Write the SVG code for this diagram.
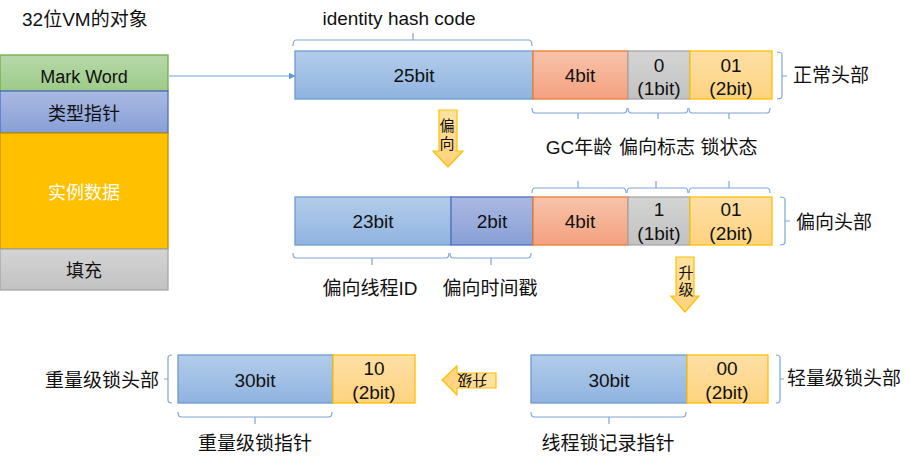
<svg xmlns="http://www.w3.org/2000/svg" width="914" height="466" viewBox="0 0 914 466">
<style>
text{font-family:"Liberation Sans","Noto Sans CJK SC",sans-serif;font-size:19px;fill:#111;}
.c{text-anchor:middle;}
.s18{font-size:18px;}
.s15{font-size:15px;}
.br{fill:none;stroke:#7ea6d8;stroke-width:1.2;}
.blue{fill:url(#gBlue);stroke:#6d9ad2;stroke-width:1.3;}
.purp{fill:url(#gPurp);stroke:#4a72c0;stroke-width:1.3;}
.salm{fill:url(#gSalm);stroke:#ed7d31;stroke-width:1.3;}
.gray{fill:url(#gGray);stroke:#a6a6a6;stroke-width:1.3;}
.yel{fill:url(#gYel);stroke:#ffc000;stroke-width:1.3;}
.green{fill:url(#gGreen);stroke:#70ad47;stroke-width:1.3;}
.gold{fill:#ffc000;stroke:#c09000;stroke-width:1.3;}
.arr{fill:url(#gArr);stroke:#ffc000;stroke-width:1.2;}
</style>
<defs>
<linearGradient id="gBlue" x1="0" y1="0" x2="0" y2="1"><stop offset="0" stop-color="#b3cdea"/><stop offset="1" stop-color="#8fb3e0"/></linearGradient>
<linearGradient id="gPurp" x1="0" y1="0" x2="0" y2="1"><stop offset="0" stop-color="#abb9e2"/><stop offset="1" stop-color="#879fd6"/></linearGradient>
<linearGradient id="gSalm" x1="0" y1="0" x2="0" y2="1"><stop offset="0" stop-color="#f7c3aa"/><stop offset="1" stop-color="#f4a17f"/></linearGradient>
<linearGradient id="gGray" x1="0" y1="0" x2="0" y2="1"><stop offset="0" stop-color="#d4d4d4"/><stop offset="1" stop-color="#c2c2c2"/></linearGradient>
<linearGradient id="gYel" x1="0" y1="0" x2="0" y2="1"><stop offset="0" stop-color="#fedfa6"/><stop offset="1" stop-color="#fed37f"/></linearGradient>
<linearGradient id="gGreen" x1="0" y1="0" x2="0" y2="1"><stop offset="0" stop-color="#b7d8aa"/><stop offset="1" stop-color="#9dcb88"/></linearGradient>
<linearGradient id="gArr" x1="0" y1="0" x2="0" y2="1"><stop offset="0" stop-color="#ffe3a3"/><stop offset="1" stop-color="#fed27a"/></linearGradient>
<linearGradient id="gArrH" x1="1" y1="0" x2="0" y2="0"><stop offset="0" stop-color="#ffe3a3"/><stop offset="1" stop-color="#fed27a"/></linearGradient>
<marker id="mArrow" viewBox="0 0 10 10" refX="9" refY="5" markerWidth="7" markerHeight="7" markerUnits="userSpaceOnUse" orient="auto"><path d="M0,0 L10,5 L0,10 z" fill="#5b9bd5"/></marker>
</defs>

<text x="22" y="26">32位VM的对象</text>

<g id="object">
<rect x="0" y="55" width="168" height="36" class="green"/>
<text x="84" y="83" class="c s18">Mark Word</text>
<rect x="0" y="91" width="168" height="42" class="purp"/>
<text x="84" y="120" class="c s18">类型指针</text>
<rect x="0" y="133" width="168" height="116" class="gold"/>
<text x="84" y="199" class="c s18" style="fill:#fff">实例数据</text>
<rect x="0" y="249" width="168" height="41" class="gray"/>
<text x="84" y="277" class="c s18">填充</text>
</g>

<g id="connectors">
<line x1="169" y1="76" x2="295" y2="76" stroke="#9dc0e6" stroke-width="1.6" marker-end="url(#mArrow)"/>
</g>

<g id="normal-header">
<rect x="295" y="51" width="238" height="48" class="blue"/>
<text x="414" y="82" class="c">25bit</text>
<rect x="533" y="51" width="95" height="48" class="salm"/>
<text x="580" y="82" class="c">4bit</text>
<rect x="628" y="51" width="62" height="48" class="gray"/>
<text x="659" y="72" class="c">0</text>
<text x="659" y="95" class="c">(1bit)</text>
<rect x="690" y="51" width="82" height="48" class="yel"/>
<text x="731" y="72" class="c">01</text>
<text x="731" y="95" class="c">(2bit)</text>
<path class="br" d="M293,46 Q293,40 296,40 H529 Q532,40 532,46 M413,40 V33"/>
<text x="399" y="25" class="c">identity hash code</text>
<path class="br" d="M532,108 Q532,113 535,113 H624 Q627,113 627,108 M578,113 V119"/>
<path class="br" d="M628,108 Q628,113 631,113 H685 Q688,113 688,108 M658,113 V119"/>
<path class="br" d="M689,108 Q689,113 692,113 H767 Q770,113 770,108 M729,113 V119"/>
<text x="579" y="154" class="c">GC年龄</text>
<text x="657" y="154" class="c">偏向标志</text>
<text x="729" y="154" class="c">锁状态</text>
<path class="br" d="M777,52 Q782,52 782,55 V96 Q782,99 777,99 M782,76 H787"/>
<text x="793" y="82">正常头部</text>
</g>

<g id="arrow-biased">
<polygon class="arr" points="439,110 457,110 457,151 463,151 448,167 433,151 439,151"/>
<text x="447" y="131" class="c s15">偏</text>
<text x="447" y="149" class="c s15">向</text>
</g>

<g id="biased-header">
<rect x="295" y="197" width="156" height="48" class="blue"/>
<text x="373" y="228" class="c">23bit</text>
<rect x="451" y="197" width="82" height="48" class="purp"/>
<text x="492" y="228" class="c">2bit</text>
<rect x="533" y="197" width="95" height="48" class="salm"/>
<text x="580" y="228" class="c">4bit</text>
<rect x="628" y="197" width="62" height="48" class="gray"/>
<text x="659" y="216" class="c">1</text>
<text x="659" y="240" class="c">(1bit)</text>
<rect x="690" y="197" width="82" height="48" class="yel"/>
<text x="731" y="216" class="c">01</text>
<text x="731" y="240" class="c">(2bit)</text>
<path class="br" d="M532,193 Q532,188 535,188 H623 Q626,188 626,193 M578,188 V181"/>
<path class="br" d="M627,193 Q627,188 630,188 H685 Q688,188 688,193 M656,188 V181"/>
<path class="br" d="M689,193 Q689,188 692,188 H767 Q770,188 770,193 M729,188 V181"/>
<path class="br" d="M780,197 Q785,197 785,200 V242 Q785,245 780,245 M785,221 H790"/>
<text x="796" y="229">偏向头部</text>
<path class="br" d="M293,253 Q293,258 296,258 H446 Q449,258 449,253 M372,258 V265"/>
<path class="br" d="M450,253 Q450,258 453,258 H528 Q531,258 531,253 M491,258 V265"/>
<text x="370" y="295" class="c">偏向线程ID</text>
<text x="490" y="295" class="c">偏向时间戳</text>
</g>

<g id="arrow-upgrade1">
<polygon class="arr" points="676,257 694,257 694,296 699,296 685,312 671,296 676,296"/>
<text x="686" y="278" class="c s15">升</text>
<text x="686" y="295" class="c s15">级</text>
</g>

<g id="light-header">
<rect x="531" y="355" width="156" height="48" class="blue"/>
<text x="609" y="387" class="c">30bit</text>
<rect x="687" y="355" width="81" height="48" class="yel"/>
<text x="727" y="375" class="c">00</text>
<text x="727" y="399" class="c">(2bit)</text>
<path class="br" d="M776,355 Q780,355 780,358 V400 Q780,403 776,403 M780,379 H784"/>
<text x="787" y="385">轻量级锁头部</text>
<path class="br" d="M531,412 Q531,417 534,417 H683 Q686,417 686,412 M609,417 V424"/>
<text x="608" y="450" class="c">线程锁记录指针</text>
</g>

<g id="arrow-upgrade2">
<polygon points="496,373 457,373 457,366 442,380 457,395 457,388 496,388" style="fill:url(#gArrH);stroke:#ffc000;stroke-width:1.2"/>
<text x="472" y="386" class="c s15" transform="rotate(180 472 380.5)">升级</text>
</g>

<g id="heavy-header">
<rect x="178" y="355" width="155" height="48" class="blue"/>
<text x="255" y="387" class="c">30bit</text>
<rect x="333" y="355" width="82" height="48" class="yel"/>
<text x="374" y="375" class="c">10</text>
<text x="374" y="399" class="c">(2bit)</text>
<path class="br" d="M172,355 Q168,355 168,358 V400 Q168,403 172,403 M168,379 H164"/>
<text x="45" y="387">重量级锁头部</text>
<path class="br" d="M178,412 Q178,417 181,417 H329 Q332,417 332,412 M255,417 V424"/>
<text x="255" y="450" class="c">重量级锁指针</text>
</g>
</svg>
